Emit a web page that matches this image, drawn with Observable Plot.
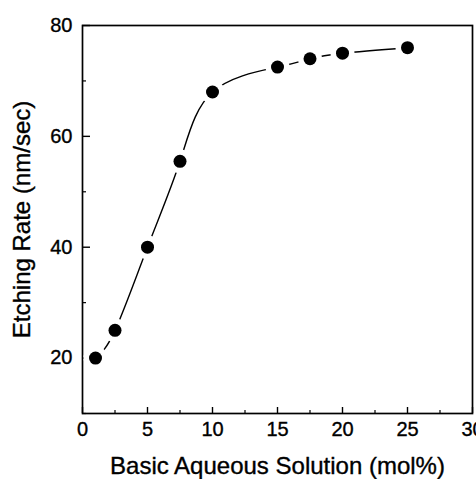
<!DOCTYPE html>
<html><head><meta charset="utf-8">
<script src="https://cdn.jsdelivr.net/npm/d3@7"></script>
<script src="https://cdn.jsdelivr.net/npm/@observablehq/plot@0.6"></script>
<style>
body{margin:0;background:#fff;overflow:hidden}
#chart svg{font-family:"Liberation Sans",Arial,sans-serif}
#chart svg text{stroke:black;stroke-width:0.35px}
</style>
</head><body><div id="chart"></div>
<script>
const concentration = [1, 2.5, 5, 7.5, 10, 15, 17.5, 20, 25];
const etchingRate = [20, 25, 40, 55.5, 68, 72.5, 74, 75, 76];
const xMajorTicks = [0, 5, 10, 15, 20, 25, 30];
const xMinorTicks = [2.5, 7.5, 12.5, 17.5, 22.5, 27.5];
const yMajorTicks = [20, 40, 60, 80];
const yMinorTicks = [10, 30, 50, 70];
const xLabel = "Basic Aqueous Solution (mol%)";
const yLabel = "Etching Rate (nm/sec)";

const data = concentration.map((x, i) => ({x, y: etchingRate[i]}));

const W = 476, H = 479, mL = 82, mR = 4, mT = 25, mB = 66;
const innerW = W - mL - mR, innerH = H - mT - mB;

const chart = Plot.plot({
  width: W, height: H,
  marginLeft: mL, marginRight: mR, marginTop: mT, marginBottom: mB,
  style: {fontFamily: '"Liberation Sans", Arial, sans-serif', fontSize: "20px", color: "black", background: "white", overflow: "visible"},
  x: {domain: [0, 30]},
  y: {domain: [10, 80]},
  marks: [
    Plot.axisX(xMajorTicks, {tickSize: 0, tickPadding: 8, fontSize: 20,
      label: xLabel, labelAnchor: "center", labelArrow: "none", labelOffset: 60}),
    Plot.axisY(yMajorTicks, {tickSize: 0, tickPadding: 10, fontSize: 20,
      label: yLabel, labelAnchor: "center", labelArrow: "none", labelOffset: 70}),
    Plot.tickX(xMajorTicks, {x: d => d, insetTop: innerH - 6, stroke: "black", strokeWidth: 1.4}),
    Plot.tickX(xMinorTicks, {x: d => d, insetTop: innerH - 3, stroke: "black", strokeWidth: 1.2}),
    Plot.tickY(yMajorTicks, {y: d => d, insetRight: innerW - 8, stroke: "black", strokeWidth: 1.4}),
    Plot.tickY(yMinorTicks, {y: d => d, insetRight: innerW - 4, stroke: "black", strokeWidth: 1.2}),
    Plot.frame({stroke: "black", strokeWidth: 1.7}),
    Plot.line(data, {x: "x", y: "y", curve: "natural", stroke: "black", strokeWidth: 1.4}),
    Plot.dot(data, {x: "x", y: "y", r: 12, fill: "white"}),
    Plot.dot(data, {x: "x", y: "y", r: 6.5, fill: "black"})
  ]
});
chart.querySelectorAll('[aria-label$="-axis label"] text').forEach(t => t.setAttribute("font-size", "24"));
document.getElementById("chart").append(chart);
</script>
</body></html>
